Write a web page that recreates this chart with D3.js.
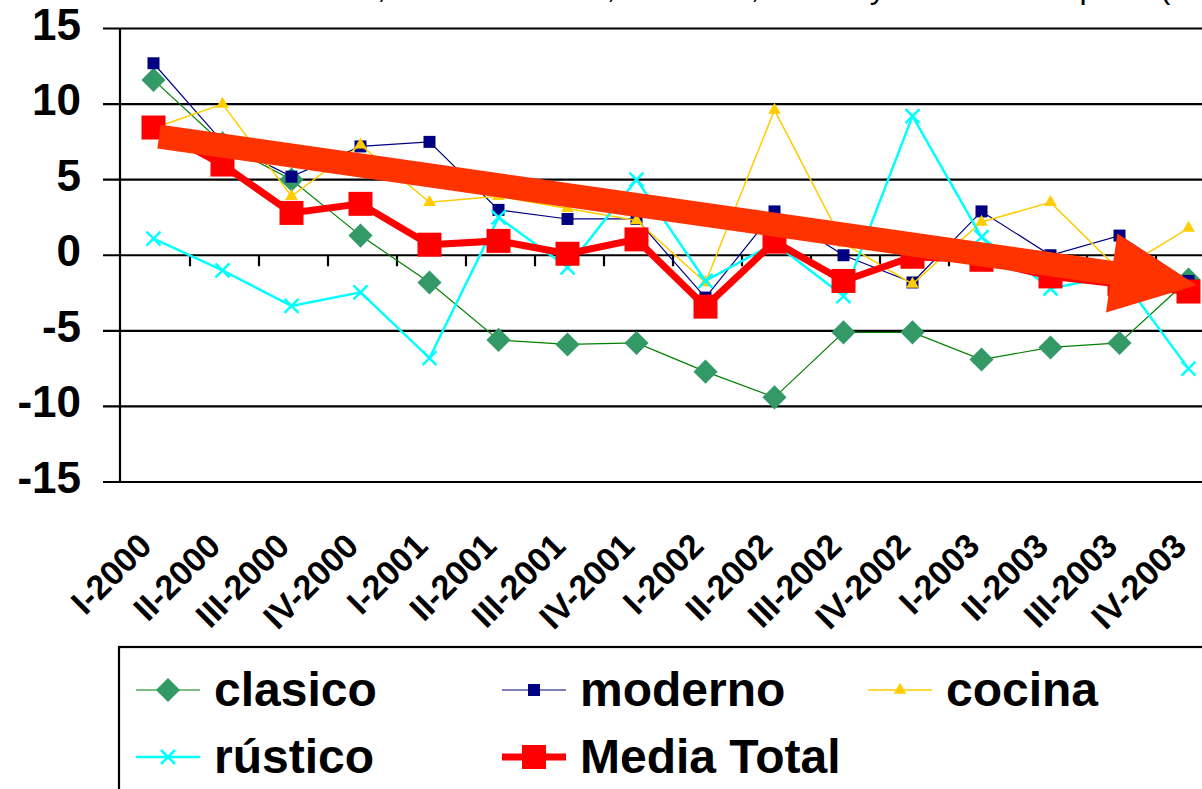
<!DOCTYPE html>
<html>
<head>
<meta charset="utf-8">
<script src="https://cdn.jsdelivr.net/npm/d3@7"></script>
<style>
  html, body { margin: 0; padding: 0; background: #fff; overflow: hidden; }
  svg { display: block; font-family: "Liberation Sans", Arial, sans-serif; }
</style>
</head>
<body>
<div id="chart"></div>
<script>
// data
const categories = ["I-2000", "II-2000", "III-2000", "IV-2000", "I-2001", "II-2001", "III-2001", "IV-2001",
  "I-2002", "II-2002", "III-2002", "IV-2002", "I-2003", "II-2003", "III-2003", "IV-2003"];

const clasico    = [11.6, 7.4, 5.0, 1.3, -1.8, -5.6, -5.9, -5.8, -7.7, -9.4, -5.1, -5.1, -6.9, -6.1, -5.8, -1.6];
const moderno    = [12.7, 7.5, 5.2, 7.2, 7.5, 3.0, 2.4, 2.4, -2.8, 2.9, 0.0, -1.8, 2.9, 0.0, 1.3, -1.7];
const cocina     = [8.4, 10.0, 3.9, 7.3, 3.5, 3.9, 3.1, 2.3, -1.8, 9.6, 0.8, -1.9, 2.2, 3.5, -1.0, 1.8];
const rustico    = [1.1, -1.0, -3.35, -2.45, -6.8, 2.5, -0.8, 5.0, -1.7, 0.8, -2.7, 9.2, 1.2, -2.2, -1.3, -7.5];
const mediaTotal = [8.45, 6.0, 2.8, 3.4, 0.7, 0.95, 0.1, 1.05, -3.4, 0.9, -1.7, -0.1, -0.3, -1.4, -1.9, -2.4];

const yTicks = [-15, -10, -5, 0, 5, 10, 15];

// trend arrow, in category index / value units
const trendFrom = { i: 0.08, v: 7.85 };
const trendTo = { i: 15.12, v: -1.98 };

const titleText = "Tasas de variación, mueble clásico, moderno, cocina y rústico en España (sobre el mismo trimestre)";

const series = [
  { name: "clasico", values: clasico, line: "#008000", lw: 1.2, marker: "diamond", fill: "#339966" },
  { name: "moderno", values: moderno, line: "#000080", lw: 1.2, marker: "square", fill: "#000080" },
  { name: "cocina", values: cocina, line: "#FFCC00", lw: 1.5, marker: "triangle", fill: "#FFCC00" },
  { name: "rústico", values: rustico, line: "#00FFFF", lw: 2.5, marker: "x", fill: "#00FFFF" },
  { name: "Media Total", values: mediaTotal, line: "#FF0000", lw: 7, marker: "bigsquare", fill: "#FF0000" }
];

// layout
const width = 1202;
const height = 789;

const svg = d3.select("#chart").append("svg")
  .attr("width", width)
  .attr("height", height);

const x = d3.scaleBand()
  .domain(categories)
  .range([119, 119 + 69 * categories.length])
  .padding(0);

const y = d3.scaleLinear().domain([-15, 15]).range([482, 28.5]);

const xc = (d) => x(d) + x.bandwidth() / 2;
const xi = (i) => x.range()[0] + x.step() * (i + 0.5);

// title, mostly cut off by the top edge
svg.append("text")
  .attr("x", 112)
  .attr("y", -2)
  .attr("font-size", 32)
  .attr("fill", "#000")
  .text(titleText);

// gridlines (with tick stubs on the left)
svg.append("g")
  .selectAll("line")
  .data(yTicks)
  .join("line")
  .attr("x1", 103)
  .attr("x2", width)
  .attr("y1", (d) => y(d))
  .attr("y2", (d) => y(d))
  .attr("stroke", "#000")
  .attr("stroke-width", 2.2);

// y labels
svg.append("g")
  .selectAll("text")
  .data(yTicks)
  .join("text")
  .attr("x", 81)
  .attr("y", (d) => y(d) + 11)
  .attr("text-anchor", "end")
  .attr("font-size", 44)
  .attr("font-weight", "bold")
  .text((d) => d);

// value axis line
svg.append("line")
  .attr("x1", 120).attr("x2", 120)
  .attr("y1", y(15)).attr("y2", y(-15))
  .attr("stroke", "#000")
  .attr("stroke-width", 2.2);

// category axis at zero: tick marks between categories
svg.append("g")
  .selectAll("line")
  .data(categories.slice(1))
  .join("line")
  .attr("x1", (d) => x(d) + 2)
  .attr("x2", (d) => x(d) + 2)
  .attr("y1", y(0))
  .attr("y2", y(0) + 11)
  .attr("stroke", "#000")
  .attr("stroke-width", 2.2);

// category labels
svg.append("g")
  .selectAll("text")
  .data(categories)
  .join("text")
  .attr("transform", (d) => `translate(${xc(d)},548) rotate(-45)`)
  .attr("text-anchor", "end")
  .attr("font-size", 34)
  .attr("font-weight", "bold")
  .text((d) => d);

// markers
function drawMarker(sel, type, fill) {
  if (type === "diamond") {
    sel.append("path")
      .attr("d", d3.symbol(d3.symbolSquare, 290)())
      .attr("transform", (p) => `translate(${p[0]},${p[1]}) rotate(45)`)
      .attr("fill", fill);
  } else if (type === "square") {
    sel.append("path")
      .attr("d", d3.symbol(d3.symbolSquare, 144)())
      .attr("transform", (p) => `translate(${p[0]},${p[1]})`)
      .attr("fill", fill);
  } else if (type === "bigsquare") {
    sel.append("path")
      .attr("d", d3.symbol(d3.symbolSquare, 576)())
      .attr("transform", (p) => `translate(${p[0]},${p[1]})`)
      .attr("fill", fill);
  } else if (type === "triangle") {
    sel.append("path")
      .attr("d", d3.symbol(d3.symbolTriangle, 70)())
      .attr("transform", (p) => `translate(${p[0]},${p[1]})`)
      .attr("fill", fill);
  } else if (type === "x") {
    sel.append("path")
      .attr("d", "M-7,-7L7,7M-7,7L7,-7")
      .attr("transform", (p) => `translate(${p[0]},${p[1]})`)
      .attr("stroke", fill)
      .attr("stroke-width", 2.5)
      .attr("fill", "none");
  }
}

const line = d3.line();

series.forEach((s) => {
  const pts = s.values.map((v, i) => [xc(categories[i]), y(v)]);
  const g = svg.append("g").attr("class", "series");
  g.append("path")
    .attr("d", line(pts))
    .attr("fill", "none")
    .attr("stroke", s.line)
    .attr("stroke-width", s.lw)
    .attr("stroke-linejoin", "miter");
  const m = g.selectAll("g.m").data(pts).join("g").attr("class", "m");
  drawMarker(m, s.marker, s.fill);
});

// trend arrow
(function () {
  const x0 = xi(trendFrom.i), y0 = y(trendFrom.v);
  const x1 = xi(trendTo.i), y1 = y(trendTo.v);
  const len = Math.hypot(x1 - x0, y1 - y0);
  const ux = (x1 - x0) / len, uy = (y1 - y0) / len;
  const nx = -uy, ny = ux;
  const shaft = 12, head = 40, headLen = 86;
  const bx = x1 - ux * headLen, by = y1 - uy * headLen;
  const poly = [
    [x0 + nx * shaft, y0 + ny * shaft],
    [bx + nx * shaft, by + ny * shaft],
    [bx + nx * head, by + ny * head],
    [x1, y1],
    [bx - nx * head, by - ny * head],
    [bx - nx * shaft, by - ny * shaft],
    [x0 - nx * shaft, y0 - ny * shaft]
  ];
  svg.append("path")
    .attr("d", "M" + poly.map((p) => p.join(",")).join("L") + "Z")
    .attr("fill", "#FF3300");
})();

// legend
const legend = svg.append("g");
legend.append("rect")
  .attr("x", 119)
  .attr("y", 647)
  .attr("width", 1200)
  .attr("height", 200)
  .attr("fill", "none")
  .attr("stroke", "#000")
  .attr("stroke-width", 2.2);

const legendRows = [690, 757];
series.forEach((s, k) => {
  const col = k % 3, row = Math.floor(k / 3);
  const lx = 136 + 366 * col, ly = legendRows[row];
  const item = legend.append("g");
  item.append("line")
    .attr("x1", lx).attr("x2", lx + 64)
    .attr("y1", ly).attr("y2", ly)
    .attr("stroke", s.line)
    .attr("stroke-width", s.lw);
  const m = item.selectAll("g").data([[lx + 32, ly]]).join("g");
  drawMarker(m, s.marker, s.fill);
  item.append("text")
    .attr("x", lx + 78)
    .attr("y", ly + 16)
    .attr("font-size", 48)
    .attr("font-weight", "bold")
    .text(s.name);
});
</script>
</body>
</html>
